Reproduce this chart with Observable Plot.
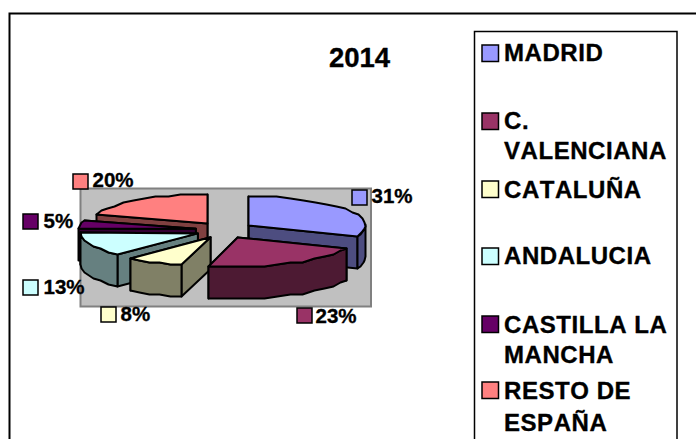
<!DOCTYPE html>
<html>
<head>
<meta charset="utf-8">
<script src="https://cdn.jsdelivr.net/npm/d3@7"></script>
<script src="https://cdn.jsdelivr.net/npm/@observablehq/plot@0.6"></script>
<style>
html,body{margin:0;padding:0;background:#fff;overflow:hidden}
svg{display:block;max-width:none}
.spaced text{letter-spacing:.55px;font-kerning:none}
</style>
</head>
<body>
<div id="chart"></div>
<script>
// data
const title = "2014";
const regions = ["MADRID", "C. VALENCIANA", "CATALUÑA", "ANDALUCIA", "CASTILLA LA MANCHA", "RESTO DE ESPAÑA"];
const shares = [31, 23, 8, 13, 5, 20];
const legendLines = [["MADRID"], ["C.", "VALENCIANA"], ["CATALUÑA"], ["ANDALUCIA"], ["CASTILLA LA", "MANCHA"], ["RESTO DE", "ESPAÑA"]];

// styles
const topColors = ["#9999FF", "#993366", "#FFFFCC", "#CCFFFF", "#660066", "#FF8080"];
const sideColors = ["#4D4D80", "#4D1A33", "#808066", "#668080", "#330033", "#804040"];
const font = "'Liberation Sans', Arial, sans-serif";

// layout
const W = 696, H = 439;
const pie = {cx: 224, cy: 229.6, rx: 117, ry: 29, depth: 32, explode: 29, explodeY: 8.26};
const drawOrder = [5, 0, 4, 3, 2, 1];
const legendKeyY = [53, 121, 189, 256, 324, 390];
const legendBaselines = [[60], [128, 158], [197], [263], [332, 362], [398, 430]];
const labelKeys = [[352, 190], [297, 308], [101, 307], [23, 280], [23, 214], [73, 174]];
const labelTextAt = [[371, 203], [315, 323], [120, 321], [43, 294], [43, 228], [92, 187]];

const rad = d => d * Math.PI / 180;
const total = d3.sum(shares);
let acc = 0;
const slices = shares.map((s, i) => {
  const a0 = acc / total * 360;
  acc += s;
  const a1 = acc / total * 360;
  const mid = rad((a0 + a1) / 2);
  return {i, a0, a1,
    ax: pie.cx + pie.explode * Math.sin(mid),
    ay: pie.cy - pie.explodeY * Math.cos(mid)};
});
const rim = (s, deg, drop = 0) => {
  const x = s.ax + pie.rx * Math.sin(rad(deg));
  const y = s.ay - pie.ry * Math.cos(rad(deg));
  // the source renders its rim as a coarse stair-stepped polyline
  return {x: Math.round(x), y: Math.round(y / 2) * 2 + drop};
};
const arc = (s, a, b, drop = 0) => {
  const n = Math.max(1, Math.ceil((b - a) / 7));
  return d3.range(n + 1).map(k => rim(s, a + (b - a) * k / n, drop));
};
const poly = (pts, fill) => Plot.line(pts, {
  x: "x", y: "y", fill, stroke: "#000", strokeWidth: 2,
  curve: "linear-closed", strokeLinejoin: "round"
});

const pieMarks = [];
for (const idx of drawOrder) {
  const s = slices[idx];
  const apex = {x: s.ax, y: s.ay}, apexLow = {x: s.ax, y: s.ay + pie.depth};
  for (const a of [s.a1, s.a0]) {
    pieMarks.push(poly([apex, rim(s, a), rim(s, a, pie.depth), apexLow], sideColors[idx]));
  }
  const w0 = Math.max(s.a0, 90), w1 = Math.min(s.a1, 270);
  if (w1 > w0) {
    pieMarks.push(poly([...arc(s, w0, w1), ...arc(s, w0, w1, pie.depth).reverse()], sideColors[idx]));
  }
  pieMarks.push(poly([apex, ...arc(s, s.a0, s.a1)], topColors[idx]));
}

const box = (x1, y1, x2, y2, o) => Plot.rect([0], {x1: () => x1, y1: () => y1, x2: () => x2, y2: () => y2, ...o});
const key = (x, y, size, fill) => box(x, y, x + size, y + size, {fill, stroke: "#000", strokeWidth: 1.5});

const legendRows = legendLines.flatMap((lines, i) => lines.map((t, j) => ({t, x: 503.5, y: legendBaselines[i][j]})));
const labelRows = shares.map((s, i) => ({t: s + "%", x: labelTextAt[i][0], y: labelTextAt[i][1]}));
const heavy = {fill: "#000", stroke: "#000", strokeWidth: 0.35, fontFamily: font, fontWeight: 700, textAnchor: "start"};

const plot = Plot.plot({
  width: W, height: H,
  marginTop: 0, marginRight: 0, marginBottom: 0, marginLeft: 0,
  style: {background: "#fff", fontFamily: font},
  x: {type: "linear", domain: [0, W], range: [0, W], axis: null},
  y: {type: "linear", domain: [0, H], range: [0, H], axis: null},
  marks: [
    box(9.5, 13.5, W + 10, H + 10, {fill: "#fff", stroke: "#000", strokeWidth: 2}),
    box(80.5, 188.5, 371, 306.5, {fill: "#C0C0C0", stroke: "#808080", strokeWidth: 2}),
    ...pieMarks,
    Plot.text([title], {x: () => 359, y: () => 58, text: d => d, ...heavy, fontSize: 27.5, textAnchor: "middle", lineAnchor: "middle"}),
    box(474.5, 31.5, 677, H + 10, {fill: "none", stroke: "#000", strokeWidth: 1.5}),
    ...topColors.map((c, i) => key(482, legendKeyY[i] - 8, 16.5, c)),
    Plot.text(legendRows, {x: "x", y: "y", text: "t", ...heavy, fontSize: 24, lineAnchor: "bottom", dy: 0, className: "spaced"}),
    ...topColors.map((c, i) => key(labelKeys[i][0], labelKeys[i][1], 15, c)),
    Plot.text(labelRows, {x: "x", y: "y", text: "t", ...heavy, fontSize: 20.5, lineAnchor: "bottom", dy: -1})
  ]
});
document.getElementById("chart").append(plot);
</script>
</body>
</html>
